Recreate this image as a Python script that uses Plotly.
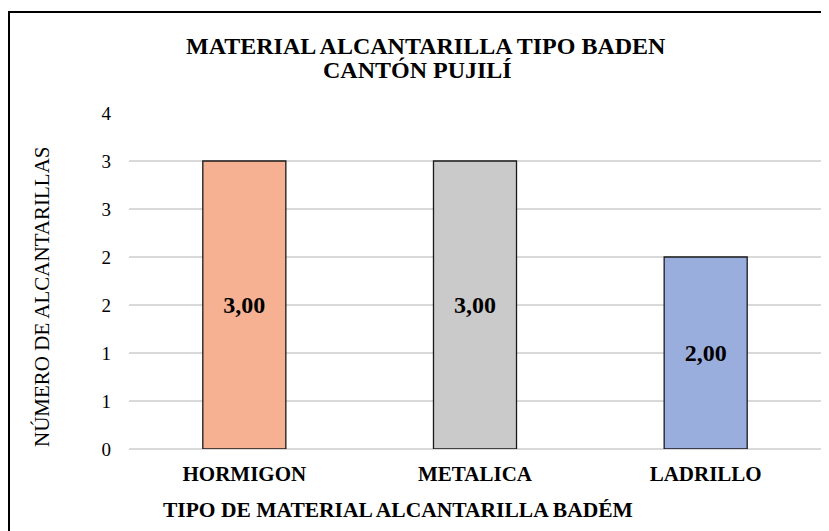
import plotly.graph_objects as go

# data
materials = ["HORMIGON", "METALICA", "LADRILLO"]
counts = [3, 3, 2]
bar_colors = ["#F5B191", "#CACACA", "#9AAEDD"]
y_tick_values = [0, 0.5, 1, 1.5, 2, 2.5, 3, 3.5]
y_tick_labels = ["0", "1", "1", "2", "2", "3", "3", "4"]
title_lines = ["MATERIAL ALCANTARILLA TIPO BADEN", "CANTÓN PUJILÍ"]

FONT = "Liberation Serif, Times New Roman, serif"

fig = go.Figure()

fig.add_trace(go.Bar(
    x=materials,
    y=counts,
    marker=dict(color=bar_colors, line=dict(color="#1a1a1a", width=1.3)),
    texttemplate="<b>%{y:.2f}</b>",
    textposition="inside",
    insidetextanchor="middle",
    textangle=0,
    textfont=dict(family=FONT, size=24, color="black"),
    showlegend=False,
    hoverinfo="skip",
))

# the page body adds an 8px offset, so the figure is 8px smaller than the window
fig.update_layout(
    width=821, height=523,
    margin=dict(l=121, r=8, t=105, b=82),
    paper_bgcolor="white",
    plot_bgcolor="white",
    separators=",.",
    bargap=0.64,
    font=dict(family=FONT, color="black"),
    xaxis=dict(
        showgrid=False, showline=False, zeroline=False,
        tickfont=dict(family=FONT, size=21, color="black", weight="bold"),
        ticklabelstandoff=10,
    ),
    yaxis=dict(
        range=[0, 3.5],
        tickvals=y_tick_values,
        ticktext=y_tick_labels,
        showgrid=True, gridcolor="#D9D9D9", gridwidth=1.5,
        zeroline=True, zerolinecolor="#D9D9D9", zerolinewidth=1.5,
        showline=False,
        tickfont=dict(family=FONT, size=19, color="black"),
        ticklabelstandoff=17,
    ),
)

# chart title, two lines placed separately for tighter spacing
for text, x, y in zip(title_lines, [0.4292, 0.4176], [1.1994, 1.128]):
    fig.add_annotation(
        text=text,
        xref="paper", yref="paper", x=x, y=y,
        xanchor="center", yanchor="middle", showarrow=False,
        font=dict(family=FONT, size=24, color="black", weight="bold"),
    )

# axis titles
fig.add_annotation(
    text="TIPO DE MATERIAL ALCANTARILLA BADÉM",
    xref="paper", yref="paper", x=0.3887, y=-0.1815,
    xanchor="center", yanchor="middle", showarrow=False,
    font=dict(family=FONT, size=21.5, color="black", weight="bold"),
)
fig.add_annotation(
    text="NÚMERO DE ALCANTARILLAS",
    xref="paper", yref="paper", x=-0.1257, y=0.4524,
    xanchor="center", yanchor="middle", showarrow=False, textangle=-90,
    font=dict(family=FONT, size=21, color="black"),
)

# outer chart frame (cut off at right and bottom in the reference)
fig.add_shape(
    type="rect", xref="paper", yref="paper",
    x0=-0.1734, x1=1.05, y0=-0.6, y1=1.3006,
    line=dict(color="black", width=2), fillcolor="rgba(0,0,0,0)", layer="above",
)

fig.write_html("out.html")
